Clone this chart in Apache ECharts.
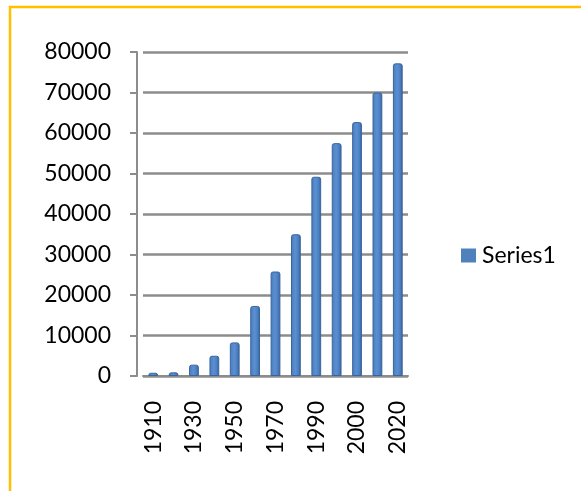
<!DOCTYPE html>
<html>
<head>
<meta charset="utf-8">
<script src="https://cdn.jsdelivr.net/npm/echarts@6/dist/echarts.min.js"></script>
<style>
  html, body { margin: 0; padding: 0; background: #fff; }
  #chart { width: 581px; height: 491px; }
</style>
</head>
<body>
<div id="chart"></div>
<script>
// data
var years = ['1910', '1920', '1930', '1940', '1950', '1960', '1970', '1980', '1990', '1995', '2000', '2010', '2020'];
var series1 = [800, 900, 2800, 5000, 8300, 17300, 25800, 35000, 49200, 57500, 62700, 70000, 77200];
var yTicks = { min: 0, max: 80000, step: 10000 };

var chart = echarts.init(document.getElementById('chart'));
var font = 'Lato, "Open Sans", sans-serif';

chart.setOption({
    animation: false,
    backgroundColor: '#fff',
    // yellow frame, only top/left edges visible in the crop
    graphic: [{
        type: 'rect',
        shape: { x: 10, y: 7, width: 700, height: 600 },
        style: { fill: 'none', stroke: '#FFC000', lineWidth: 2.5 },
        silent: true
    }],
    grid: {
        left: 143,
        right: 173,
        top: 52,
        bottom: 115
    },
    legend: {
        data: ['Series1'],
        left: 456,
        top: 239,
        itemWidth: 15,
        itemHeight: 14,
        itemGap: 6,
        icon: 'rect',
        itemStyle: { color: '#4F81BD', borderWidth: 0 },
        textStyle: { fontFamily: font, fontSize: 23, color: '#000', padding: [0, 0, 0, 1] }
    },
    xAxis: {
        type: 'category',
        data: years,
        axisLine: { lineStyle: { color: '#8c8c8c', width: 2 } },
        axisTick: { length: 7, lineStyle: { color: '#8c8c8c', width: 2 } },
        axisLabel: {
            interval: 1,
            rotate: 90,
            margin: 25,
            fontFamily: font,
            fontSize: 23,
            color: '#000'
        }
    },
    yAxis: {
        type: 'value',
        min: yTicks.min,
        max: yTicks.max,
        interval: yTicks.step,
        offset: 6,
        axisLine: { show: true, lineStyle: { color: '#8c8c8c', width: 2 } },
        axisTick: { show: true, length: 7, lineStyle: { color: '#8c8c8c', width: 2 } },
        axisLabel: {
            margin: 26,
            fontFamily: font,
            fontSize: 23,
            color: '#000',
            formatter: function (v) { return String(v); }
        },
        splitLine: { lineStyle: { color: '#8c8c8c', width: 2.5 } }
    },
    series: [{
        name: 'Series1',
        type: 'bar',
        data: series1,
        barWidth: '48%',
        itemStyle: {
            color: new echarts.graphic.LinearGradient(0, 0, 1, 0, [
                { offset: 0, color: '#4a7cbb' },
                { offset: 0.45, color: '#5b8fd2' },
                { offset: 0.75, color: '#4a7fc2' },
                { offset: 1, color: '#335f96' }
            ]),
            borderColor: '#3a659b',
            borderWidth: 1,
            borderRadius: [2, 2, 0, 0]
        }
    }]
});
</script>
</body>
</html>
